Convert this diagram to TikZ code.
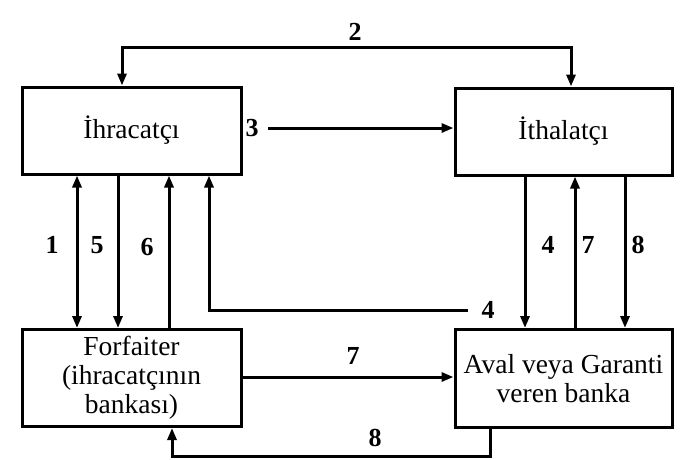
\documentclass[tikz,border=0pt]{standalone}
\usepackage{fontspec}
\setmainfont{Liberation Serif}
\usetikzlibrary{arrows.meta,calc}
\begin{document}
\begin{tikzpicture}[x=1pt,y=-1pt,
  box/.style={draw,line width=3pt,rectangle,inner sep=0pt,align=center,
    font=\fontsize{27.5}{29}\selectfont},
  conn/.style={line width=3pt,-{Triangle[length=12pt,width=9pt]}},
  dconn/.style={line width=3pt,{Triangle[length=12pt,width=9pt]}-{Triangle[length=12pt,width=9pt]}},
  num/.style={font=\fontsize{26}{28}\selectfont\bfseries,inner sep=0pt}]
\useasboundingbox (0,0) rectangle (682,459);
\node[box,minimum width=219pt,minimum height=87pt] (ih) at (131.5,130.5) {İhracatçı};
\node[box,minimum width=217pt,minimum height=87pt] (it) at (563.5,131.5) {İthalatçı};
\node[box,minimum width=219pt,minimum height=97pt] (fo) at (131.5,378) {Forfaiter\\(ihracatçının\\bankası)};
\node[box,minimum width=217pt,minimum height=98pt] (av) at (563.5,378.5) {Aval veya Garanti\\veren banka};
% x positions
\coordinate (X2a) at (122,0);
\coordinate (X2b) at (571,0);
\coordinate (T2) at (350,47);
\coordinate (S3) at (268,128);
\coordinate (X1) at (77,0);
\coordinate (X5) at (118,0);
\coordinate (X6) at (169,0);
\coordinate (X4l) at (209,0);
\coordinate (E4) at (468,310);
\coordinate (R4) at (525,0);
\coordinate (R7) at (575,0);
\coordinate (R8) at (625,0);
\coordinate (Y7) at (0,377);
\coordinate (X8a) at (490,0);
\coordinate (Y8) at (330,456);
\coordinate (X8b) at (172,0);
% connectors
\draw[dconn] (ih.north -| X2a) |- (T2) -| (it.north -| X2b);
\draw[conn] (S3) -- (it.west |- S3);
\draw[dconn] (ih.south -| X1) -- (fo.north -| X1);
\draw[conn] (ih.south -| X5) -- (fo.north -| X5);
\draw[conn] (fo.north -| X6) -- (ih.south -| X6);
\draw[conn] (E4) -| (ih.south -| X4l);
\draw[conn] (it.south -| R4) -- (av.north -| R4);
\draw[conn] (av.north -| R7) -- (it.south -| R7);
\draw[conn] (it.south -| R8) -- (av.north -| R8);
\draw[conn] (fo.east |- Y7) -- (av.west |- Y7);
\draw[conn] (av.south -| X8a) |- (Y8) -| (fo.south -| X8b);
% labels
\node[num] (l2) at (355,32) {2};
\node[num] (l3) at (252,128) {3};
\node[num] (l1) at (52,245) {1};
\node[num] (l5) at (97,245) {5};
\node[num] (l6) at (147,247) {6};
\node[num] (l4r) at (548,245) {4};
\node[num] (l7r) at (588,245) {7};
\node[num] (l8r) at (638,245) {8};
\node[num] (l4) at (488,310) {4};
\node[num] (l7) at (353,356) {7};
\node[num] (l8) at (375,438) {8};
\end{tikzpicture}
\end{document}
